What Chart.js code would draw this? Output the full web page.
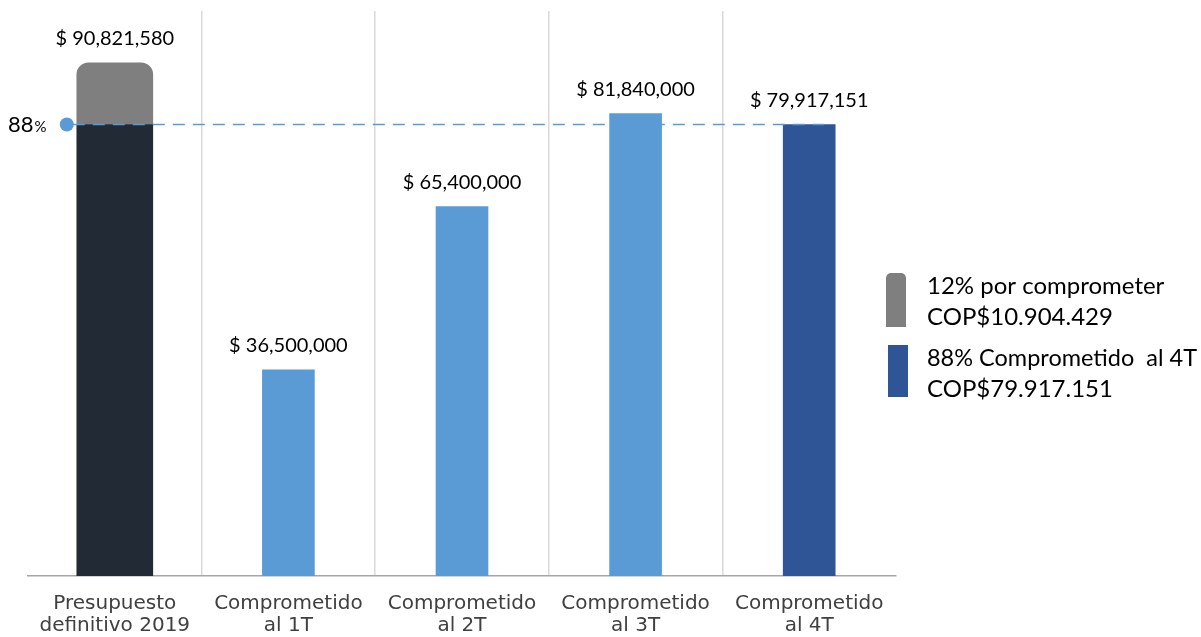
<!DOCTYPE html>
<html>
<head>
<meta charset="utf-8">
<script src="https://cdn.jsdelivr.net/npm/chart.js@4.4.1/dist/chart.umd.min.js"></script>
<style>
  html, body { margin: 0; padding: 0; background: #ffffff; }
  #wrap { position: relative; width: 1201px; height: 637px; }
</style>
</head>
<body>
<div id="wrap"><canvas id="c" width="1201" height="637"></canvas></div>
<script>
// Categories (two-line labels)
const categories = [
  ['Presupuesto', 'definitivo 2019'],
  ['Comprometido', 'al 1T'],
  ['Comprometido', 'al 2T'],
  ['Comprometido', 'al 3T'],
  ['Comprometido', 'al 4T']
];
// Budget total split: committed part and pending part
const budgetCommitted = [79917151, null, null, null, null];
const budgetPending   = [10904429, null, null, null, null];
// Cumulative committed amount per quarter
const quarterCommitted = [null, 36500000, 65400000, 81840000, 79917151];
// Value labels drawn over each column
const valueLabels = ['$ 90,821,580', '$ 36,500,000', '$ 65,400,000', '$ 81,840,000', '$ 79,917,151'];
const labelValues = [90821580, 36500000, 65400000, 81840000, 79917151];
// Reference level (88% committed)
const refLevel = 79917151;
const refLabel = ['88', '%'];
// Legend entries
const legendItems = [
  { color: '#7f7f7f', lines: ['12% por comprometer', 'COP$10.904.429'], rounded: true },
  { color: '#2f5597', lines: ['88% Comprometido  al 4T', 'COP$79.917.151'], rounded: false }
];

const quarterColors = ['#5b9bd5', '#5b9bd5', '#5b9bd5', '#5b9bd5', '#2f5597'];

const overlay = {
  id: 'overlay',
  afterDatasetsDraw(chart) {
    const { ctx, scales: { x, y } } = chart;
    ctx.save();
    // dashed reference line with marker dot
    const yRef = y.getPixelForValue(refLevel);
    const x0 = x.getPixelForValue(0) - 48;
    const x1 = x.getPixelForValue(4) + 15;
    ctx.strokeStyle = '#5b9bd5';
    ctx.lineWidth = 1.5;
    ctx.setLineDash([12, 8]);
    ctx.beginPath();
    ctx.moveTo(x0 + 6, yRef);
    ctx.lineTo(x1, yRef);
    ctx.stroke();
    ctx.setLineDash([]);
    ctx.fillStyle = '#5b9bd5';
    ctx.beginPath();
    ctx.arc(x0, yRef, 7, 0, Math.PI * 2);
    ctx.fill();

    // "88%" label
    ctx.fillStyle = '#000000';
    ctx.textBaseline = 'alphabetic';
    ctx.textAlign = 'left';
    ctx.font = '22px Lato';
    ctx.fillText(refLabel[0], 8, yRef + 8);
    const w88 = ctx.measureText(refLabel[0]).width;
    ctx.font = '15px Lato';
    ctx.fillText(refLabel[1], 8 + w88 + 1, yRef + 8);

    // value labels above columns
    ctx.font = '20px Lato';
    ctx.textAlign = 'center';
    ctx.textBaseline = 'middle';
    ctx.fillStyle = '#000000';
    labelValues.forEach((v, i) => {
      const px = x.getPixelForValue(i);
      const py = y.getPixelForValue(v) - 24;
      ctx.fillText(valueLabels[i], px, py);
    });

    // legend
    const lx = 886, ly = [273, 345];
    legendItems.forEach((item, i) => {
      ctx.fillStyle = item.color;
      const bx = lx + (item.rounded ? 0 : 2);
      ctx.beginPath();
      if (item.rounded) {
        ctx.roundRect(bx, ly[i], 20, 54, [5, 5, 0, 0]);
      } else {
        ctx.rect(bx, ly[i], 20, 52);
      }
      ctx.fill();
      ctx.fillStyle = '#000000';
      ctx.font = '24px Lato';
      ctx.textAlign = 'left';
      ctx.textBaseline = 'middle';
      item.lines.forEach((t, j) => {
        ctx.fillText(t, 927, ly[i] + 13 + j * 31, 270);
      });
    });
    ctx.restore();
  }
};

new Chart(document.getElementById('c'), {
  type: 'bar',
  data: {
    labels: categories,
    datasets: [
      {
        label: 'Presupuesto comprometido',
        data: budgetCommitted,
        backgroundColor: '#222a35',
        barThickness: 76,
        stack: 's'
      },
      {
        label: 'Por comprometer',
        data: budgetPending,
        backgroundColor: '#7f7f7f',
        barThickness: 76,
        borderRadius: { topLeft: 12, topRight: 12, bottomLeft: 0, bottomRight: 0 },
        borderSkipped: false,
        stack: 's'
      },
      {
        label: 'Comprometido',
        data: quarterCommitted,
        backgroundColor: quarterColors,
        barThickness: 52,
        stack: 's'
      }
    ]
  },
  options: {
    responsive: false,
    animation: false,
    layout: { padding: { left: 28, right: 305, top: 11, bottom: 0 } },
    plugins: { legend: { display: false }, tooltip: { enabled: false } },
    scales: {
      x: {
        stacked: true,
        offset: true,
        grid: {
          offset: true,
          drawTicks: false,
          // separators only between categories, none at the outer edges
          color: (c) => (c.index === undefined || c.index === 0) ? 'rgba(0,0,0,0)' : '#d9d9d9',
          lineWidth: 1.5
        },
        border: { display: true, color: '#a6a6a6', width: 1.5 },
        ticks: {
          color: '#404040',
          font: { family: 'DejaVu Sans', size: 20, lineHeight: 1.1 },
          padding: 17,
          maxRotation: 0,
          autoSkip: false
        },
        afterFit(scale) { scale.height = 61; }
      },
      y: {
        stacked: true,
        display: false,
        min: 0,
        max: 100000000
      }
    }
  },
  plugins: [overlay]
});
</script>
</body>
</html>
